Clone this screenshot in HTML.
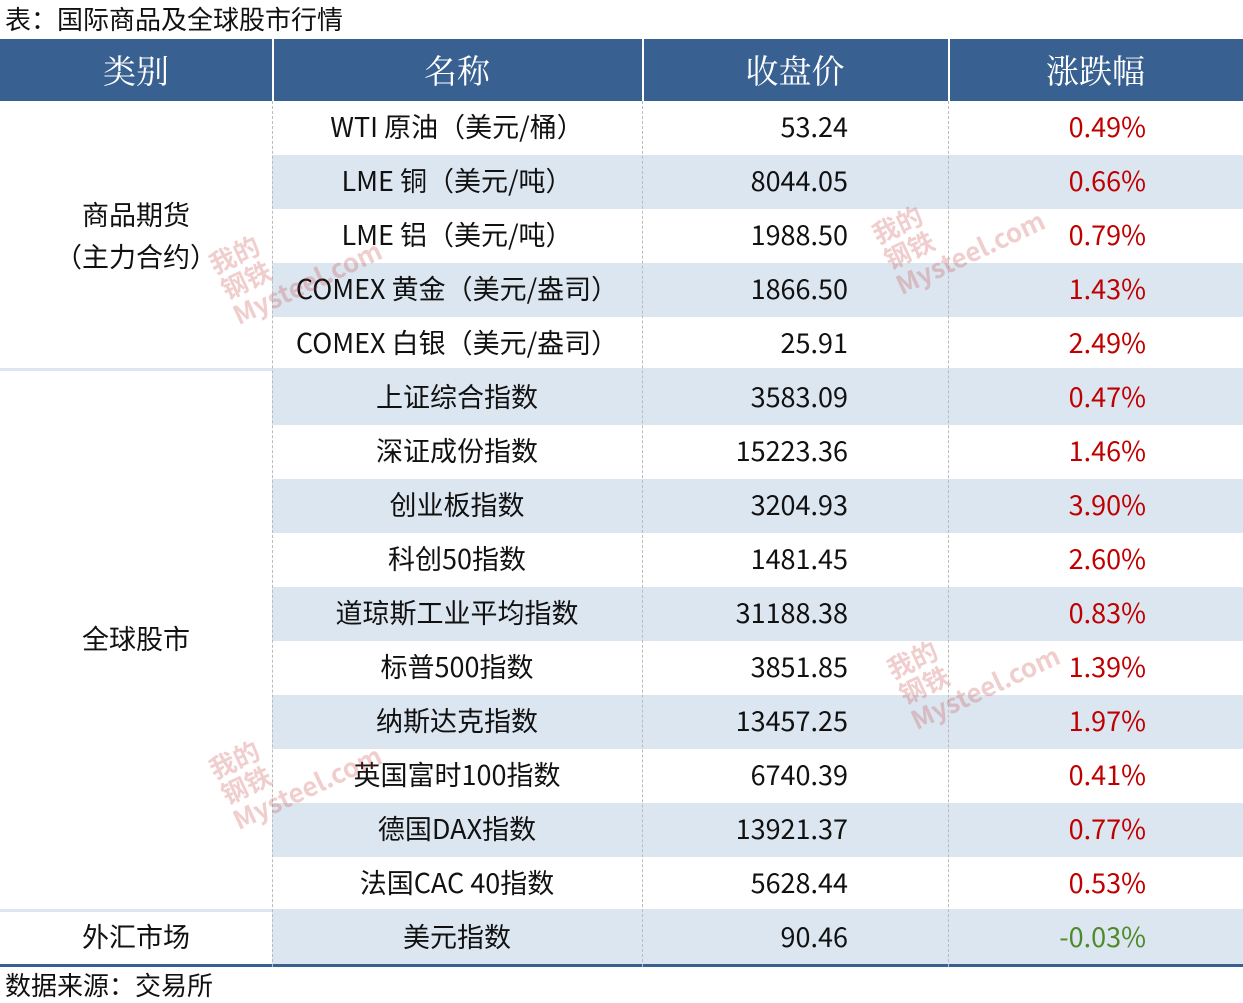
<!DOCTYPE html>
<html><head><meta charset="utf-8"><style>
body{margin:0;width:1243px;height:1003px;background:#fff;position:relative;overflow:hidden;font-family:"Noto Sans CJK SC","Liberation Sans",sans-serif;color:#111;}
div{position:absolute;box-sizing:border-box;}
.t{font-size:26px;left:5px;line-height:34px;}
.h{top:39px;height:62px;background:#386090;}
.hc{top:39px;height:62px;line-height:62px;text-align:center;color:#fff;font-family:"Noto Serif CJK SC",serif;font-size:33px;}
.sh{background:#dce6f0;height:54px;left:272px;width:971px;}
.c{height:54px;line-height:50px;font-size:27px;white-space:nowrap;}
.n{left:272px;width:370px;text-align:center;}
.v{left:642px;width:206px;text-align:right;}
.p{left:948px;width:198px;text-align:right;color:#c00000;}
.vl{top:101px;height:866px;width:0;border-left:1px dashed #bbb;}
.wm{color:rgba(200,60,60,0.25);font-size:26px;font-weight:bold;transform:rotate(-25deg);line-height:28px;}
</style></head><body>
<div class="t" style="top:2px">表：国际商品及全球股市行情</div>
<div class="h" style="left:0;width:1243px"></div>
<div style="left:272px;top:39px;width:2px;height:62px;background:#fff"></div>
<div style="left:642px;top:39px;width:2px;height:62px;background:#fff"></div>
<div style="left:948px;top:39px;width:2px;height:62px;background:#fff"></div>
<div class="hc" style="left:0;width:272px">类别</div>
<div class="hc" style="left:272px;width:370px">名称</div>
<div class="hc" style="left:642px;width:306px">收盘价</div>
<div class="hc" style="left:948px;width:295px">涨跌幅</div>

<div class="sh" style="top:155px"></div>
<div class="sh" style="top:263px"></div>
<div class="sh" style="top:371px"></div>
<div class="sh" style="top:479px"></div>
<div class="sh" style="top:587px"></div>
<div class="sh" style="top:695px"></div>
<div class="sh" style="top:803px"></div>
<div class="sh" style="top:911px"></div>
<div style="left:0;top:368px;width:1243px;height:3px;background:#dce6f0"></div>
<div style="left:0;top:909px;width:1243px;height:3px;background:#dce6f0"></div>
<div style="left:0;top:964px;width:1243px;height:3px;background:#386090"></div>
<div class="vl" style="left:272px"></div>
<div class="vl" style="left:642px"></div>
<div class="vl" style="left:948px"></div>

<div class="c" style="left:0;width:272px;top:193px;line-height:42px;height:90px;text-align:center">商品期货<br>（主力合约）</div>
<div class="c" style="left:0;width:272px;top:613px;text-align:center">全球股市</div>
<div class="c" style="left:0;width:272px;top:911px;text-align:center">外汇市场</div>

<div class="c n" style="top:101px">WTI 原油（美元/桶）</div><div class="c v" style="top:101px">53.24</div><div class="c p" style="top:101px">0.49%</div>
<div class="c n" style="top:155px">LME 铜（美元/吨）</div><div class="c v" style="top:155px">8044.05</div><div class="c p" style="top:155px">0.66%</div>
<div class="c n" style="top:209px">LME 铝（美元/吨）</div><div class="c v" style="top:209px">1988.50</div><div class="c p" style="top:209px">0.79%</div>
<div class="c n" style="top:263px">COMEX 黄金（美元/盎司）</div><div class="c v" style="top:263px">1866.50</div><div class="c p" style="top:263px">1.43%</div>
<div class="c n" style="top:317px">COMEX 白银（美元/盎司）</div><div class="c v" style="top:317px">25.91</div><div class="c p" style="top:317px">2.49%</div>
<div class="c n" style="top:371px">上证综合指数</div><div class="c v" style="top:371px">3583.09</div><div class="c p" style="top:371px">0.47%</div>
<div class="c n" style="top:425px">深证成份指数</div><div class="c v" style="top:425px">15223.36</div><div class="c p" style="top:425px">1.46%</div>
<div class="c n" style="top:479px">创业板指数</div><div class="c v" style="top:479px">3204.93</div><div class="c p" style="top:479px">3.90%</div>
<div class="c n" style="top:533px">科创50指数</div><div class="c v" style="top:533px">1481.45</div><div class="c p" style="top:533px">2.60%</div>
<div class="c n" style="top:587px">道琼斯工业平均指数</div><div class="c v" style="top:587px">31188.38</div><div class="c p" style="top:587px">0.83%</div>
<div class="c n" style="top:641px">标普500指数</div><div class="c v" style="top:641px">3851.85</div><div class="c p" style="top:641px">1.39%</div>
<div class="c n" style="top:695px">纳斯达克指数</div><div class="c v" style="top:695px">13457.25</div><div class="c p" style="top:695px">1.97%</div>
<div class="c n" style="top:749px">英国富时100指数</div><div class="c v" style="top:749px">6740.39</div><div class="c p" style="top:749px">0.41%</div>
<div class="c n" style="top:803px">德国DAX指数</div><div class="c v" style="top:803px">13921.37</div><div class="c p" style="top:803px">0.77%</div>
<div class="c n" style="top:857px">法国CAC 40指数</div><div class="c v" style="top:857px">5628.44</div><div class="c p" style="top:857px">0.53%</div>
<div class="c n" style="top:911px">美元指数</div><div class="c v" style="top:911px">90.46</div><div class="c p" style="top:911px;color:#4e8a2a">-0.03%</div>

<div class="wm" style="left:215px;top:215px">我的<br>钢铁<br>Mysteel.com</div>
<div class="wm" style="left:878px;top:185px">我的<br>钢铁<br>Mysteel.com</div>
<div class="wm" style="left:893px;top:620px">我的<br>钢铁<br>Mysteel.com</div>
<div class="wm" style="left:215px;top:720px">我的<br>钢铁<br>Mysteel.com</div>

<div class="t" style="top:968px">数据来源：交易所</div>
</body></html>
